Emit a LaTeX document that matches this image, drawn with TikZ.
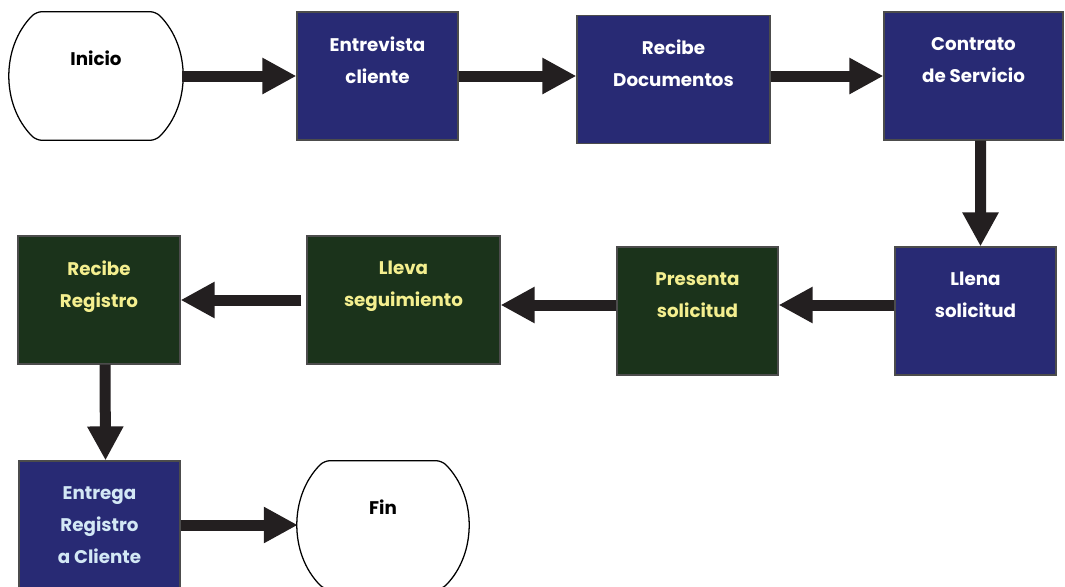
\documentclass[tikz,border=0pt]{standalone}
\usepackage{fontspec}
\setmainfont{Poppins}
\usepackage{tikz}
\usetikzlibrary{arrows.meta}

\definecolor{azulproc}{HTML}{282A74}
\definecolor{verdeproc}{HTML}{1B331B}
\definecolor{amarillotxt}{HTML}{F4EF8F}
\definecolor{celestetxt}{HTML}{D3E8F5}
\definecolor{flechanegra}{HTML}{231F20}

\begin{document}
\begin{tikzpicture}[
  x=0.025cm, y=-0.025cm,
  caja/.style={draw=black!70, line width=0.8pt, minimum height=3.2cm,
    font=\bfseries\fontsize{13pt}{22.8pt}\selectfont, align=center},
  azul/.style={caja, fill=azulproc, text=white},
  verde/.style={caja, fill=verdeproc, text=amarillotxt},
  terminal/.style={minimum height=3.2cm, minimum width=2.975cm,
    font=\bfseries\fontsize{13pt}{22.8pt}\selectfont, align=center},
  bordeterm/.style={draw=black, line width=0.9pt, fill=white, rounded corners=4pt},
  flecha/.style={line width=0.275cm, draw=flechanegra,
    -{Triangle[length=0.85cm, width=0.85cm, fill=flechanegra]}}
]
\useasboundingbox (0,0) rectangle (1065,586);

% Inicio y fin (lados curvos)
\node[terminal] (inicio) at (96,76) {};
\node[terminal, minimum width=2.925cm] (fin) at (383,525) {};
\foreach \t in {inicio,fin}
  \draw[bordeterm] (\t.north) -- (\t.north east)
    .. controls +(0.88cm,-0.88cm) and +(0.88cm,0.88cm) .. (\t.south east)
    -- (\t.south west)
    .. controls +(-0.88cm,0.88cm) and +(-0.88cm,-0.88cm) .. (\t.north west) -- cycle;
\node[terminal] at (inicio) {Inicio\\[3pt]\mbox{}};
\node[terminal] at (fin) {Fin\\[3pt]\mbox{}};

% Primera fila
\node[azul, minimum width=4.025cm] (entrevista) at (377.5,76) {Entrevista\\cliente\\ \mbox{}};
\node[azul, minimum width=4.825cm] (recibedoc) at (673.5,79.5) {Recibe\\Documentos\\ \mbox{}};
\node[azul, minimum width=4.475cm] (contrato) at (973.5,76) {Contrato\\de Servicio\\ \mbox{}};

% Segunda fila (de derecha a izquierda)
\node[azul, minimum width=4.025cm] (llena) at (975.5,311) {Llena\\solicitud\\ \mbox{}};
\node[verde, minimum width=4.025cm] (presenta) at (697.5,311) {Presenta\\solicitud\\ \mbox{}};
\node[verde, minimum width=4.825cm] (lleva) at (403.5,300) {Lleva\\seguimiento\\ \mbox{}};
\node[verde, minimum width=4.05cm] (recibereg) at (99,300) {Recibe\\Registro\\ \mbox{}};

% Tercera fila
\node[azul, text=celestetxt, minimum width=4.025cm] (entrega) at (99.5,525) {Entrega\\Registro\\a Cliente};

% Flechas
\coordinate (salidapres) at ([yshift=0.15cm]presenta.west);
\draw[flecha] ([xshift=0.66cm]inicio.east) -- (entrevista.west);
\draw[flecha] (entrevista.east) -- (recibedoc.west |- entrevista.east);
\draw[flecha] (recibedoc.east |- contrato.west) -- (contrato.west);
\draw[flecha] ([xshift=0.175cm]contrato.south) -- ([xshift=0.125cm]llena.north);
\draw[flecha] ([yshift=0.15cm]llena.west) -- ([yshift=0.15cm]presenta.east);
\draw[flecha] (salidapres) -- (salidapres -| lleva.east);
\draw[flecha, shorten <=3.5pt] (lleva.west) -- (recibereg.east);
\draw[flecha] ([xshift=0.15cm]recibereg.south) -- ([xshift=0.15cm]entrega.north);
\draw[flecha] (entrega.east) -- ([xshift=-0.66cm]fin.west);

\end{tikzpicture}
\end{document}
